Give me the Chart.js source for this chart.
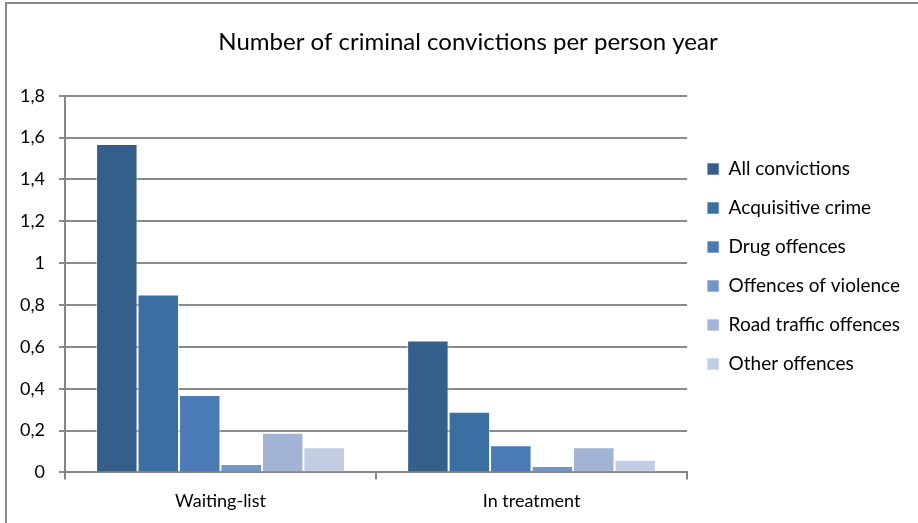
<!DOCTYPE html>
<html>
<head>
<meta charset="utf-8">
<script src="https://cdn.jsdelivr.net/npm/chart.js@4"></script>
<style>
  html, body { margin: 0; padding: 0; background: #fff; }
  #wrap { position: relative; width: 918px; height: 523px; overflow: hidden; }
  #frame { position: absolute; left: 5px; top: 2px; width: 930px; height: 540px; border: 2px solid #8c8c8c; box-sizing: border-box; }
  canvas { position: absolute; left: 0; top: 0; }
</style>
</head>
<body>
<div id="wrap">
  <div id="frame"></div>
  <canvas id="chart" width="918" height="523"></canvas>
</div>
<script>
const chartTitle = 'Number of criminal convictions per person year';
const categories = ['Waiting-list', 'In treatment'];
const seriesNames = ['All convictions', 'Acquisitive crime', 'Drug offences', 'Offences of violence', 'Road traffic offences', 'Other offences'];
const allConvictions = [1.57, 0.63];
const acquisitiveCrime = [0.85, 0.29];
const drugOffences = [0.37, 0.13];
const offencesOfViolence = [0.04, 0.03];
const roadTrafficOffences = [0.19, 0.12];
const otherOffences = [0.12, 0.06];
const seriesColors = ['#355F8B', '#3A6FA3', '#4A7BB6', '#7196C9', '#A2B4D6', '#C0CDE3'];

const fontFamily = "Lato, 'Open Sans', sans-serif";
const seriesData = [allConvictions, acquisitiveCrime, drugOffences, offencesOfViolence, roadTrafficOffences, otherOffences];

// nudge the title box so the text is centred on the frame, not the padded area
const shiftTitle = {
    id: 'shiftTitle',
    afterLayout(chart) {
        if (chart.titleBlock) chart.titleBlock.left += 20;
    }
};

const ctx = document.getElementById('chart').getContext('2d');
new Chart(ctx, {
    type: 'bar',
    data: {
        labels: categories,
        datasets: seriesNames.map((name, i) => ({
            label: name,
            data: seriesData[i],
            backgroundColor: seriesColors[i],
            borderColor: 'rgba(255,255,255,0.6)',
            borderWidth: 1,
            categoryPercentage: 0.8,
            barPercentage: 1
        }))
    },
    options: {
        responsive: false,
        animation: false,
        layout: { padding: { left: 6, right: 8, top: 10, bottom: 0 } },
        plugins: {
            title: {
                display: true,
                text: chartTitle,
                color: '#000',
                font: { family: fontFamily, size: 24, weight: 'normal' },
                padding: { top: 18, bottom: 39 }
            },
            legend: {
                position: 'right',
                align: 'center',
                labels: {
                    color: '#000',
                    font: { family: fontFamily, size: 19 },
                    boxWidth: 12,
                    boxHeight: 12,
                    padding: 20
                }
            },
            tooltip: { enabled: false }
        },
        scales: {
            x: {
                grid: { display: true, drawOnChartArea: false, color: '#868686', lineWidth: 2, tickLength: 7, offset: true },
                border: { color: '#868686', width: 2 },
                ticks: { color: '#000', font: { family: fontFamily, size: 18 }, padding: 11 }
            },
            y: {
                min: 0,
                max: 1.8,
                ticks: {
                    stepSize: 0.2,
                    color: '#000',
                    font: { family: fontFamily, size: 18 },
                    padding: 14,
                    callback: v => String(Math.round(v * 10) / 10).replace('.', ',')
                },
                grid: { color: '#8c8c8c', lineWidth: 2, tickLength: 6 },
                border: { color: '#868686', width: 2 }
            }
        }
    },
    plugins: [shiftTitle]
});
</script>
</body>
</html>
